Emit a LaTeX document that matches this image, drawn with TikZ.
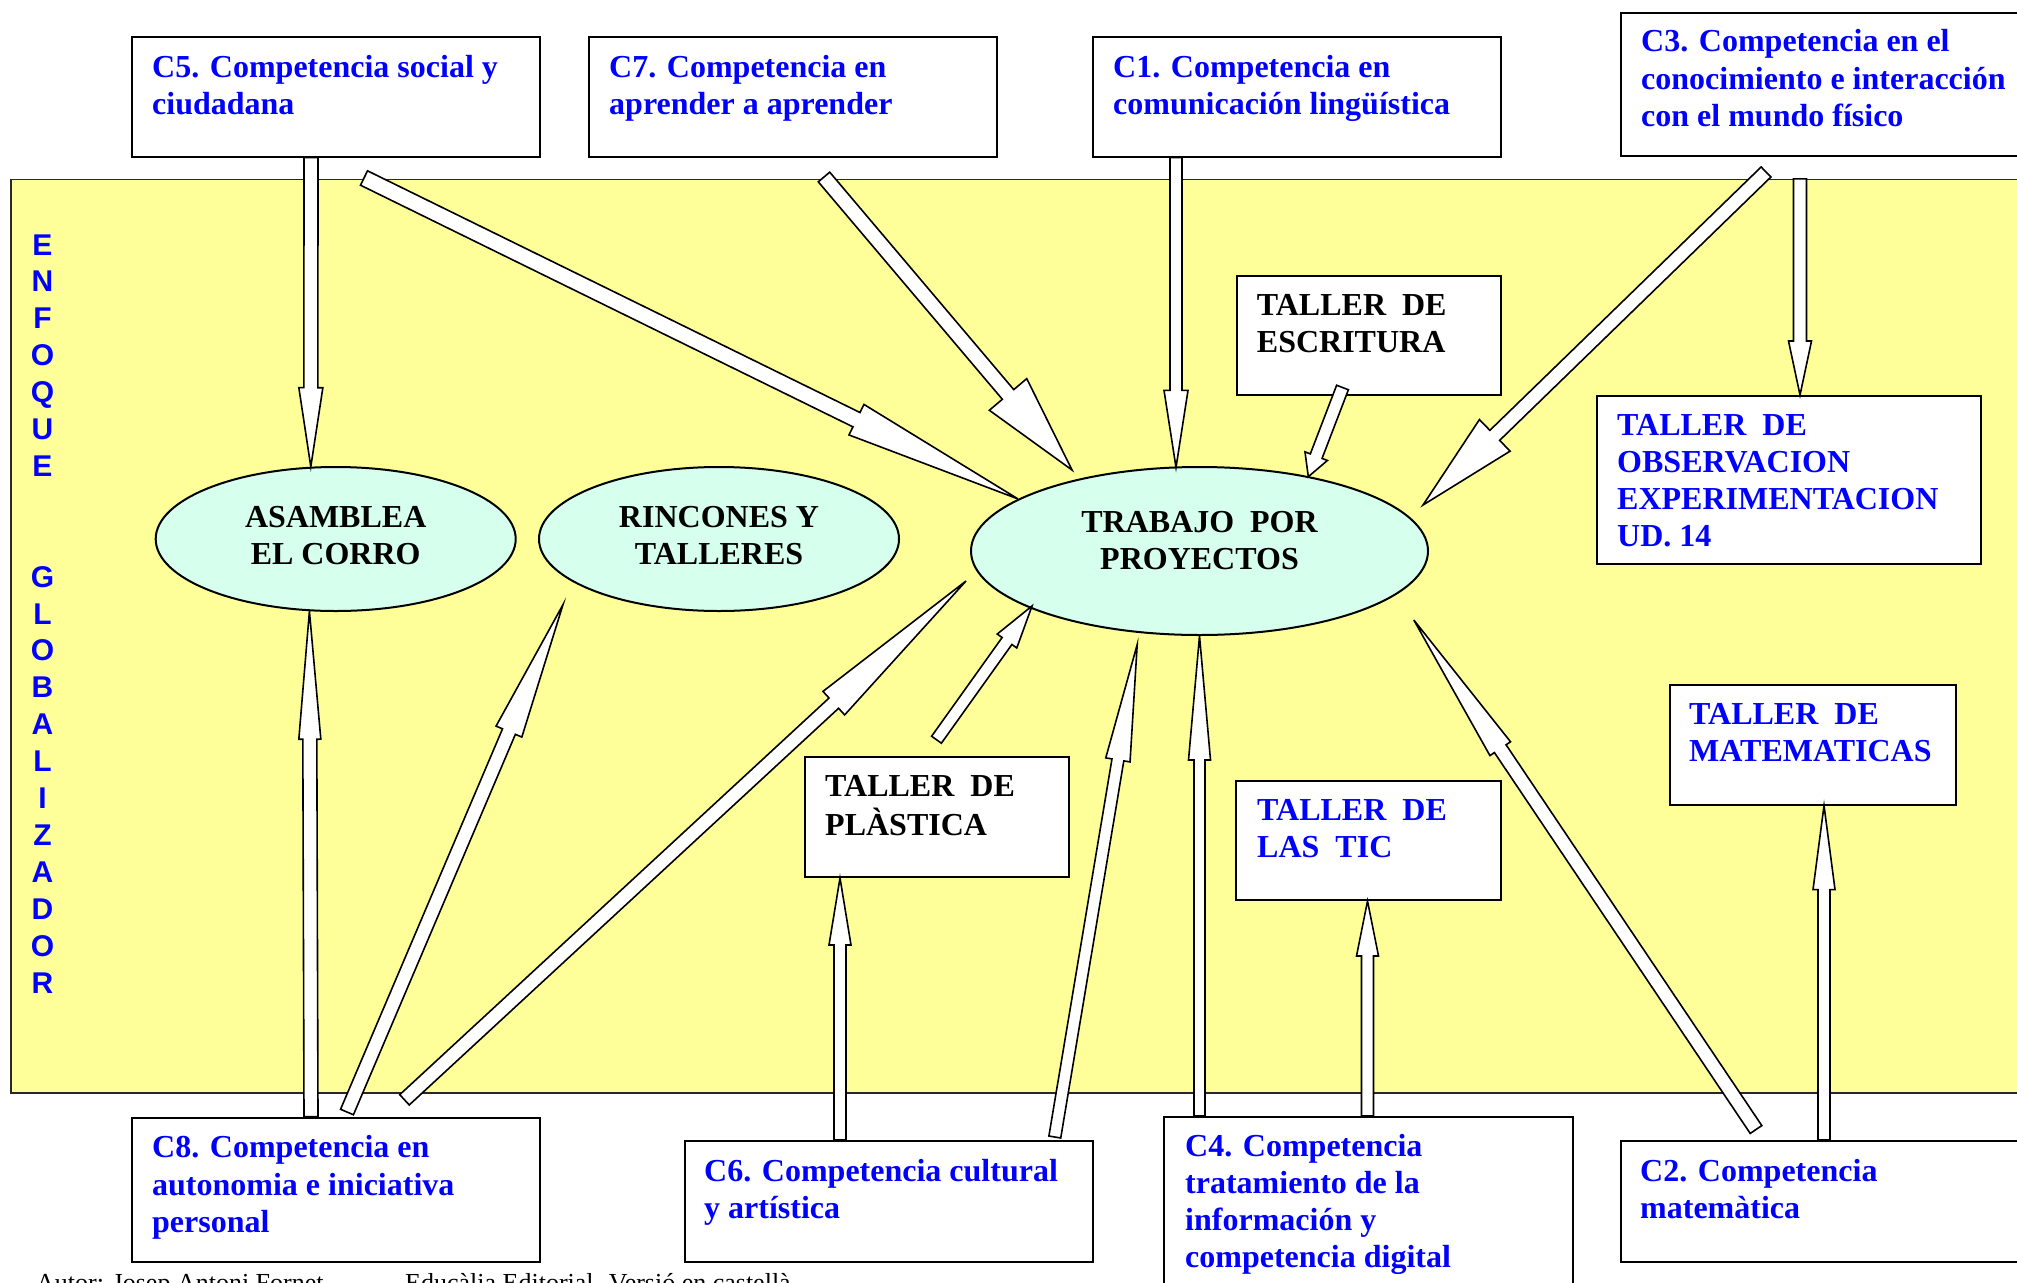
\documentclass[tikz,border=0pt]{standalone}
\usepackage{fontspec}
\setmainfont{Liberation Serif}
\newfontfamily\arialf{Liberation Sans}
\usetikzlibrary{calc,shapes.geometric}
\definecolor{yel}{RGB}{255,255,153}
\definecolor{cyanl}{RGB}{214,255,238}
\definecolor{bl}{RGB}{0,0,255}
\newcommand\tl[1]{\begin{tabular}[t]{@{}l@{}}#1\end{tabular}}
\newcommand\tc[1]{\begin{tabular}[t]{@{}c@{}}#1\end{tabular}}
% hollow block arrow: start, tip, shaft half width, head half width, head length
\newcommand\barrow[5]{%
  \coordinate (ba) at (#1);
  \coordinate (bb) at (#2);
  \coordinate (bh) at ($(bb)!#5pt!(ba)$);
  \draw[barr] ($(ba)!#3pt!90:(bb)$) -- ($(bh)!#3pt!90:(bb)$) -- ($(bh)!#4pt!90:(bb)$) -- (bb)
     -- ($(bh)!#4pt!-90:(bb)$) -- ($(bh)!#3pt!-90:(bb)$) -- ($(ba)!#3pt!-90:(bb)$) -- cycle;}
\begin{document}
\begin{tikzpicture}[x=1pt,y=-1pt,
  box/.style={draw=black, line width=2pt, fill=white, inner sep=0pt, anchor=north west},
  ell/.style={draw=black, line width=2pt, fill=cyanl, ellipse, inner sep=0pt},
  txt/.style={inner sep=0pt, anchor=base west, font=\fontsize{32}{37.3}\selectfont\bfseries},
  ctxt/.style={txt, anchor=base},
  barr/.style={draw=black, line width=1.6pt, fill=white, line join=miter}]
\useasboundingbox (0,0) rectangle (2017,1282);
\fill[white] (0,0) rectangle (2017,1282);
% frame
\node[draw={rgb,255:red,40;green,40;blue,40}, line width=1.5pt, fill=yel, inner sep=0pt, anchor=north west,
  minimum width=2040pt, minimum height=913.2pt] (frame) at (10.3,178.8) {};
\node[inner sep=0pt, anchor=base, text=bl, font=\arialf\bfseries\fontsize{30}{36.9}\selectfont] (enf) at (42.5,255)
  {\tc{E\\N\\F\\O\\Q\\U\\E\\{}\\{}\\G\\L\\O\\B\\A\\L\\I\\Z\\A\\D\\O\\R}};
% top boxes
\node[box, minimum width=408pt, minimum height=119.6pt] (c5) at (131,36) {};
\node[txt, text=bl] (c5t) at (152,77) {\tl{C5. Competencia social y\\ciudadana}};
\node[box, minimum width=407.7pt, minimum height=119.6pt] (c7) at (588,36) {};
\node[txt, text=bl] (c7t) at (609,77) {\tl{C7. Competencia en\\aprender a aprender}};
\node[box, minimum width=408pt, minimum height=119.6pt] (c1) at (1092,36) {};
\node[txt, text=bl] (c1t) at (1113,77) {\tl{C1. Competencia en\\comunicación lingüística}};
\node[box, minimum width=500pt, minimum height=143pt] (c3) at (1620,12) {};
\node[txt, text=bl] (c3t) at (1641,51.7) {\tl{C3. Competencia en el\\conocimiento e interacción\\con el mundo físico}};
% ellipses
\node[ell, minimum width=360pt, minimum height=144pt] (asam) at (335.7,539) {};
\node[ctxt] (asamt) at (335.7,527) {\tc{ASAMBLEA\\EL CORRO}};
\node[ell, minimum width=360pt, minimum height=144pt] (rinc) at (719,539) {};
\node[ctxt] (rinct) at (719,527) {\tc{RINCONES Y\\TALLERES}};
\node[ell, minimum width=457pt, minimum height=168pt] (trab) at (1199.5,551) {};
\node[ctxt] (trabt) at (1199.5,532) {\tc{TRABAJO~ POR\\PROYECTOS}};
% inner boxes
\node[box, minimum width=264.3pt, minimum height=119pt] (escr) at (1235.7,275) {};
\node[txt] (escrt) at (1256.7,315) {\tl{TALLER~ DE\\ESCRITURA}};
\node[box, minimum width=383.4pt, minimum height=168.4pt] (obs) at (1596.4,395) {};
\node[txt, text=bl] (obst) at (1617,435) {\tl{TALLER~ DE\\OBSERVACION\\EXPERIMENTACION\\UD. 14}};
\node[box, minimum width=286.8pt, minimum height=119.6pt] (mat) at (1668.5,684) {};
\node[txt, text=bl] (matt) at (1689,724) {\tl{TALLER~ DE\\MATEMATICAS}};
\node[box, minimum width=265pt, minimum height=119.5pt] (tic) at (1235,779.5) {};
\node[txt, text=bl] (tict) at (1257,820) {\tl{TALLER~ DE\\LAS~ TIC}};
\node[box, minimum width=263.7pt, minimum height=119.6pt] (plas) at (804,756.4) {};
\node[txt] (plast) at (825,796.5) {\tl{TALLER~ DE\\PLÀSTICA}};
% bottom boxes
\node[box, minimum width=408pt, minimum height=144pt] (c8) at (131,1116.6) {};
\node[txt, text=bl] (c8t) at (152,1157.8) {\tl{C8. Competencia en\\autonomia e iniciativa\\personal}};
\node[box, minimum width=407.6pt, minimum height=121pt] (c6) at (684.4,1139.8) {};
\node[txt, text=bl] (c6t) at (704,1181) {\tl{C6. Competencia cultural\\y artística}};
\node[box, minimum width=408.4pt, minimum height=200pt] (c4) at (1163.3,1116) {};
\node[txt, text=bl] (c4t) at (1185,1156) {\tl{C4. Competencia\\tratamiento de la\\información y\\competencia digital}};
\node[box, minimum width=500pt, minimum height=121pt] (c2) at (1620,1139.8) {};
\node[txt, text=bl] (c2t) at (1640,1181) {\tl{C2. Competencia\\matemàtica}};
% footer
\node[inner sep=0pt, anchor=base west, font=\fontsize{26}{30}\selectfont] (aut) at (36,1291) {Autor: Josep Antoni Fornet};
\node[inner sep=0pt, anchor=base west, font=\fontsize{26}{30}\selectfont] (edi) at (405,1291) {Educàlia Editorial. Versió en castellà};
% arrow end points
\coordinate (a1s) at ($(c5.south west)+(180,0)$);   \coordinate (a1e) at (asam.109.1);
\coordinate (a2s) at (364,178);                     \coordinate (a2e) at (trab.164.8);
\coordinate (a3s) at (824,177);                     \coordinate (a3e) at (1072,470);
\coordinate (a4s) at ($(c1.south west)+(84,0)$);    \coordinate (a4e) at (1176,467.4);
\coordinate (a5s) at (1342.5,387.5);                \coordinate (a5e) at (1308.3,476.7);
\coordinate (a6s) at (1766,172);                    \coordinate (a6e) at (1423,505);
\coordinate (a7s) at (1800,178.8);                  \coordinate (a7e) at ($(obs.north west)+(203.6,0)$);
\coordinate (a8s) at ($(c8.north west)+(180,0)$);   \coordinate (a8e) at (asam.250.9);
\coordinate (a9s) at (347,1112);                    \coordinate (a9e) at (563,604.6);
\coordinate (a10s) at (404.5,1099.8);               \coordinate (a10e) at (966,581);
\coordinate (a11s) at (936.5,739.7);                \coordinate (a11e) at (1032,606);
\coordinate (a12s) at (1054.8,1137);                \coordinate (a12e) at (1137.2,644.5);
\coordinate (a13s) at ($(c4.north west)+(36.2,0)$); \coordinate (a13e) at (trab.south);
\coordinate (a14s) at ($(c4.north west)+(204.2,0)$);\coordinate (a14e) at ($(tic.south west)+(132.5,0)$);
\coordinate (a15s) at (1756,1129.5);                \coordinate (a15e) at (1413.8,620);
\coordinate (a16s) at ($(c2.north west)+(204,0)$);  \coordinate (a16e) at ($(mat.south west)+(155.5,0)$);
\coordinate (a17s) at ($(c6.north west)+(155.6,0)$);\coordinate (a17e) at ($(plas.south west)+(36,0)$);
% arrows
\barrow{a1s}{a1e}{7}{12}{79}
\barrow{a2s}{a2e}{8}{17}{180}
\barrow{a3s}{a3e}{7.5}{24.5}{99}
\barrow{a4s}{a4e}{6}{12}{77}
\barrow{a5s}{a5e}{6.3}{12}{22}
\barrow{a6s}{a6e}{7}{22}{100}
\barrow{a7s}{a7e}{6.5}{11.5}{54}
\barrow{a8s}{a8e}{7}{11}{128}
\barrow{a9s}{a9e}{7}{14}{138}
\barrow{a10s}{a10e}{7}{16}{180}
\barrow{a11s}{a11e}{6}{12}{43}
\barrow{a12s}{a12e}{6}{12.3}{117}
\barrow{a13s}{a13e}{5.5}{11}{124}
\barrow{a14s}{a14e}{6}{11}{55}
\barrow{a15s}{a15e}{7}{12.4}{155}
\barrow{a16s}{a16e}{6}{11}{84}
\barrow{a17s}{a17e}{6}{11}{67}
\end{tikzpicture}
\end{document}
